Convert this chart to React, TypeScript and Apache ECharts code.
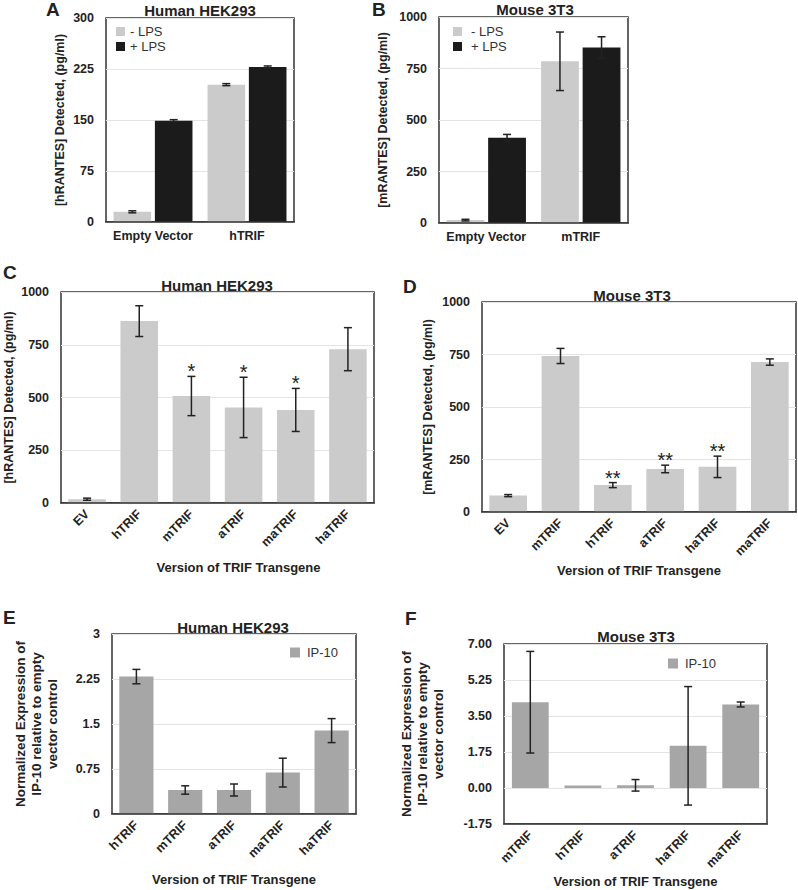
import React, { useEffect, useRef } from 'react';
import * as echarts from 'echarts';

const FONT = '"Liberation Sans", Arial, Helvetica, sans-serif';
const INK = '#222222';

// ---------- Panel A : Human HEK293 (± LPS)
const catsA = ['Empty Vector', 'hTRIF'];
const aMinusLPS = [15, 202];
const aMinusLPSErr = [1.5, 1.5];
const aPlusLPS = [149, 228];
const aPlusLPSErr = [1.5, 1.5];
const yTicksA = [0, 75, 150, 225, 300];

// ---------- Panel B : Mouse 3T3 (± LPS)
const catsB = ['Empty Vector', 'mTRIF'];
const bMinusLPS = [14, 785];
const bMinusLPSErr = [4, 142];
const bPlusLPS = [414, 852];
const bPlusLPSErr = [16, 52];
const yTicksB = [0, 250, 500, 750, 1000];

// ---------- Panel C : Human HEK293, TRIF versions
const catsC = ['EV', 'hTRIF', 'mTRIF', 'aTRIF', 'maTRIF', 'haTRIF'];
const valsC = [18, 862, 507, 453, 441, 729];
const errC = [5, 73, 93, 143, 102, 102];
const sigC = ['', '', '*', '*', '*', ''];
const yTicksC = [0, 250, 500, 750, 1000];

// ---------- Panel D : Mouse 3T3, TRIF versions
const catsD = ['EV', 'mTRIF', 'hTRIF', 'aTRIF', 'haTRIF', 'maTRIF'];
const valsD = [78, 743, 128, 205, 215, 714];
const errD = [5, 36, 12, 18, 51, 15];
const sigD = ['', '', '**', '**', '**', ''];
const yTicksD = [0, 250, 500, 750, 1000];

// ---------- Panel E : Human HEK293, IP-10
const catsE = ['hTRIF', 'mTRIF', 'aTRIF', 'maTRIF', 'haTRIF'];
const valsE = [2.29, 0.4, 0.4, 0.69, 1.39];
const errE = [0.12, 0.07, 0.1, 0.24, 0.2];
const yTicksE = [0, 0.75, 1.5, 2.25, 3];

// ---------- Panel F : Mouse 3T3, IP-10
const catsF = ['mTRIF', 'hTRIF', 'aTRIF', 'haTRIF', 'maTRIF'];
const valsF = [4.17, 0.12, 0.13, 2.05, 4.06];
const errF = [2.47, 0, 0.28, 2.88, 0.12];
const yTicksF = [-1.75, 0, 1.75, 3.5, 5.25, 7];

const RANTES_H = '[hRANTES] Detected, (pg/ml)';
const RANTES_M = '[mRANTES] Detected, (pg/ml)';
const IP10_NAME = 'Normalized Expression of\nIP-10 relative to empty\nvector control';
const X_NAME = 'Version of TRIF Transgene';

const LIGHT = '#cbcbcb';
const DARK = '#1b1b1b';
const MID = '#a6a6a6';

function errorBars(errs: number[], offset: number, sig?: string[]) {
  return (params: any, api: any) => {
    const i = params.dataIndex;
    const x = api.value(0);
    const v = api.value(1);
    const e = errs[i];
    const catW = api.size([1, 0])[0];
    const hi = api.coord([x, v + e]);
    const lo = api.coord([x, v - e]);
    const cx = hi[0] + offset * catW;
    const children: any[] = [];
    const style = { stroke: INK, lineWidth: 1.5 };
    if (e > 0) {
      children.push({ type: 'line', shape: { x1: cx, y1: hi[1], x2: cx, y2: lo[1] }, style });
      children.push({ type: 'line', shape: { x1: cx - 4, y1: hi[1], x2: cx + 4, y2: hi[1] }, style });
      children.push({ type: 'line', shape: { x1: cx - 4, y1: lo[1], x2: cx + 4, y2: lo[1] }, style });
    }
    const s = sig ? sig[i] : '';
    if (s) {
      children.push({
        type: 'text',
        x: cx,
        y: hi[1] - 5,
        style: { text: s, align: 'center', verticalAlign: 'middle', fontSize: 20, fontFamily: FONT, fill: INK },
      });
    }
    return { type: 'group', children };
  };
}

function idx(vals: number[]) {
  return vals.map((v, i) => [i, v]);
}

function xAxisCfg(gridIndex: number, data: string[], rotate: number, extra: any = {}) {
  return {
    type: 'category',
    gridIndex,
    data,
    z: 5,
    axisTick: { show: false },
    axisLine: { show: true, onZero: false, lineStyle: { color: '#333', width: 1.5 } },
    axisLabel: {
      rotate,
      interval: 0,
      margin: rotate ? 9 : 7,
      fontFamily: FONT,
      fontWeight: 'bold',
      fontSize: 12.5,
      color: INK,
    },
    ...extra,
  };
}

function yAxisCfg(gridIndex: number, ticks: number[], name: string, nameGap: number, extra: any = {}) {
  return {
    type: 'value',
    gridIndex,
    min: ticks[0],
    max: ticks[ticks.length - 1],
    interval: ticks[1] - ticks[0],
    name,
    nameLocation: 'middle',
    nameGap,
    nameTextStyle: { fontFamily: FONT, fontWeight: 'bold', fontSize: 12.5, color: INK, lineHeight: 15 },
    axisLine: { show: false },
    axisTick: { show: false },
    splitLine: { show: true, lineStyle: { color: '#e4e4e4', width: 1 } },
    axisLabel: {
      margin: 12, fontFamily: FONT, fontWeight: 'bold', fontSize: 12.5, color: INK,
      formatter: (v: number) => String(v),
    },
    ...extra,
  };
}

const gridBase = { show: true, borderColor: '#333', borderWidth: 1.5, backgroundColor: 'transparent' };

function textEl(text: string, x: number, y: number, size: number, align = 'center') {
  return {
    type: 'text',
    x,
    y,
    style: { text, align, verticalAlign: 'middle', fontFamily: FONT, fontWeight: 'bold', fontSize: size, fill: INK },
  };
}

function buildOption(): any {
  const legendText = { fontFamily: FONT, fontSize: 13, color: '#333' };
  const ip10NameStyle = { fontFamily: FONT, fontWeight: 'bold', fontSize: 13.5, color: INK, lineHeight: 16 };
  const xNameStyle = { fontFamily: FONT, fontWeight: 'bold', fontSize: 13, color: INK };
  return {
    animation: false,
    backgroundColor: '#ffffff',
    grid: [
      { ...gridBase, left: 106, top: 18, width: 188, height: 204 },
      { ...gridBase, left: 439, top: 17, width: 189, height: 206 },
      { ...gridBase, left: 60, top: 292, width: 314, height: 211 },
      { ...gridBase, left: 482, top: 302, width: 314, height: 210 },
      { ...gridBase, left: 112, top: 634, width: 244, height: 180 },
      { ...gridBase, left: 504, top: 644, width: 263, height: 180 },
    ],
    legend: [
      {
        data: ['- LPS', '+ LPS'], left: 116, top: 25, orient: 'vertical', padding: 0,
        itemWidth: 9, itemHeight: 9, itemGap: 2, icon: 'rect', selectedMode: false, textStyle: legendText,
      },
      {
        data: ['- LPS', '+ LPS'], left: 453, top: 25, orient: 'vertical', padding: 0,
        itemWidth: 9, itemHeight: 9, itemGap: 2, icon: 'rect', selectedMode: false,
        textStyle: { ...legendText, padding: [0, 0, 0, 4] },
      },
      {
        data: ['IP-10'], left: 290, top: 646, padding: 0, itemWidth: 10, itemHeight: 10,
        icon: 'rect', selectedMode: false, textStyle: { ...legendText, padding: [0, 0, 0, 2] },
      },
      {
        data: ['IP-10'], left: 668, top: 657, padding: 0, itemWidth: 10, itemHeight: 10,
        icon: 'rect', selectedMode: false, textStyle: { ...legendText, padding: [0, 0, 0, 2] },
      },
    ],
    xAxis: [
      xAxisCfg(0, catsA, 0),
      xAxisCfg(1, catsB, 0),
      xAxisCfg(2, catsC, 45, {
        name: X_NAME, nameLocation: 'middle', nameGap: 58,
        nameTextStyle: { ...xNameStyle, padding: [0, 0, 0, 42] },
      }),
      xAxisCfg(3, catsD, 45, { name: X_NAME, nameLocation: 'middle', nameGap: 52, nameTextStyle: xNameStyle }),
      xAxisCfg(4, catsE, 45, { name: X_NAME, nameLocation: 'middle', nameGap: 59, nameTextStyle: xNameStyle }),
      xAxisCfg(5, catsF, 45, { name: X_NAME, nameLocation: 'middle', nameGap: 51, nameTextStyle: xNameStyle }),
    ],
    yAxis: [
      yAxisCfg(0, yTicksA, RANTES_H, 39),
      yAxisCfg(1, yTicksB, RANTES_M, 49),
      yAxisCfg(2, yTicksC, RANTES_H, 45),
      yAxisCfg(3, yTicksD, RANTES_M, 47),
      yAxisCfg(4, yTicksE, IP10_NAME, 52, { nameTextStyle: ip10NameStyle }),
      yAxisCfg(5, yTicksF, IP10_NAME, 58, {
        nameTextStyle: ip10NameStyle,
        axisLabel: {
          margin: 12, fontFamily: FONT, fontWeight: 'bold', fontSize: 12.5, color: INK,
          formatter: (v: number) => v.toFixed(2),
        },
      }),
    ],
    series: [
      // A
      { name: '- LPS', type: 'bar', xAxisIndex: 0, yAxisIndex: 0, data: aMinusLPS, barWidth: '40%', barGap: '10%', itemStyle: { color: LIGHT } },
      { name: '+ LPS', type: 'bar', xAxisIndex: 0, yAxisIndex: 0, data: aPlusLPS, barWidth: '40%', barGap: '10%', itemStyle: { color: DARK } },
      { type: 'custom', xAxisIndex: 0, yAxisIndex: 0, z: 6, data: idx(aMinusLPS), renderItem: errorBars(aMinusLPSErr, -0.22) },
      { type: 'custom', xAxisIndex: 0, yAxisIndex: 0, z: 6, data: idx(aPlusLPS), renderItem: errorBars(aPlusLPSErr, 0.22) },
      // B
      { name: '- LPS', type: 'bar', xAxisIndex: 1, yAxisIndex: 1, data: bMinusLPS, barWidth: '40%', barGap: '10%', itemStyle: { color: LIGHT } },
      { name: '+ LPS', type: 'bar', xAxisIndex: 1, yAxisIndex: 1, data: bPlusLPS, barWidth: '40%', barGap: '10%', itemStyle: { color: DARK } },
      { type: 'custom', xAxisIndex: 1, yAxisIndex: 1, z: 6, data: idx(bMinusLPS), renderItem: errorBars(bMinusLPSErr, -0.22) },
      { type: 'custom', xAxisIndex: 1, yAxisIndex: 1, z: 6, data: idx(bPlusLPS), renderItem: errorBars(bPlusLPSErr, 0.22) },
      // C
      { name: 'hRANTES', type: 'bar', xAxisIndex: 2, yAxisIndex: 2, data: valsC, barWidth: '72%', itemStyle: { color: LIGHT } },
      { type: 'custom', xAxisIndex: 2, yAxisIndex: 2, z: 6, data: idx(valsC), renderItem: errorBars(errC, 0, sigC) },
      // D
      { name: 'mRANTES', type: 'bar', xAxisIndex: 3, yAxisIndex: 3, data: valsD, barWidth: '72%', itemStyle: { color: LIGHT } },
      { type: 'custom', xAxisIndex: 3, yAxisIndex: 3, z: 6, data: idx(valsD), renderItem: errorBars(errD, 0, sigD) },
      // E
      { name: 'IP-10', type: 'bar', xAxisIndex: 4, yAxisIndex: 4, data: valsE, barWidth: '70%', itemStyle: { color: MID } },
      { type: 'custom', xAxisIndex: 4, yAxisIndex: 4, z: 6, data: idx(valsE), renderItem: errorBars(errE, 0) },
      // F
      { name: 'IP-10', type: 'bar', xAxisIndex: 5, yAxisIndex: 5, data: valsF, barWidth: '70%', itemStyle: { color: MID } },
      { type: 'custom', xAxisIndex: 5, yAxisIndex: 5, z: 6, data: idx(valsF), renderItem: errorBars(errF, 0) },
    ],
    graphic: [
      textEl('A', 46, 9, 19, 'left'),
      textEl('B', 372, 9, 19, 'left'),
      textEl('C', 3, 272, 19, 'left'),
      textEl('D', 403, 286, 19, 'left'),
      textEl('E', 3, 617, 19, 'left'),
      textEl('F', 405, 618, 19, 'left'),
      textEl('Human HEK293', 200, 10, 15),
      textEl('Mouse 3T3', 535, 9, 15),
      textEl('Human HEK293', 217, 285, 15),
      textEl('Mouse 3T3', 632, 295, 15),
      textEl('Human HEK293', 233, 627, 15),
      textEl('Mouse 3T3', 636, 636, 15),
    ],
  };
}

export default function App() {
  const ref = useRef<HTMLDivElement>(null);
  useEffect(() => {
    if (!ref.current) return;
    const chart = echarts.init(ref.current, undefined, { renderer: 'svg' });
    chart.setOption(buildOption());
    return () => chart.dispose();
  }, []);
  return (
    <div
      ref={ref}
      style={{ position: 'fixed', left: 0, top: 0, width: 798, height: 890, background: '#fff' }}
    />
  );
}
